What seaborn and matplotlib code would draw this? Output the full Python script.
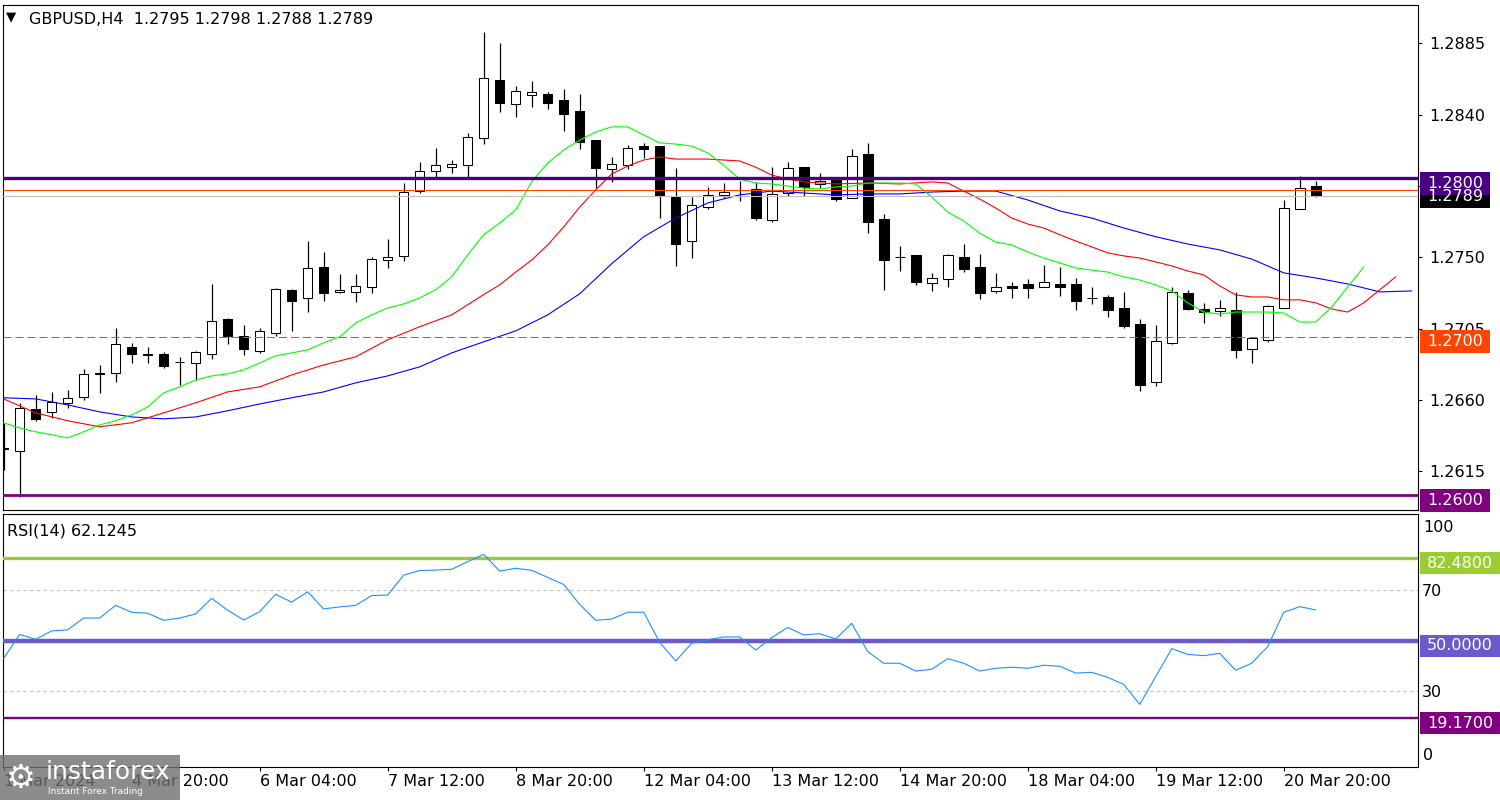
import numpy as np
import pandas as pd
import seaborn as sns
import matplotlib.pyplot as plt
from matplotlib.patches import Rectangle

# GBPUSD H4 candles, one entry per bar (1 Mar 12:00 ... 21 Mar 04:00)
opens = [1.26297, 1.26277, 1.26543, 1.26525, 1.26582, 1.26620, 1.26765, 1.26771, 1.26935, 1.26885,
         1.26891, 1.26840, 1.26834, 1.26891, 1.27112, 1.27004, 1.26909, 1.27023, 1.27295, 1.27244,
         1.27439, 1.27282, 1.27282, 1.27314, 1.27483, 1.27509, 1.27918, 1.28045, 1.28069, 1.28082,
         1.28252, 1.28618, 1.28467, 1.28524, 1.28530, 1.28492, 1.28423, 1.28241, 1.28057, 1.28082,
         1.28202, 1.28202, 1.27881, 1.27603, 1.27817, 1.27894, 1.27925, 1.27931, 1.27735, 1.27906,
         1.28069, 1.27963, 1.27994, 1.27875, 1.28152, 1.27742, 1.27502, 1.27515, 1.27338, 1.27364,
         1.27502, 1.27439, 1.27288, 1.27320, 1.27332, 1.27314, 1.27332, 1.27332, 1.27244, 1.27250,
         1.27181, 1.27080, 1.26715, 1.26961, 1.27276, 1.27174, 1.27162, 1.27168, 1.26923, 1.26980,
         1.27181, 1.27804, 1.27950]
highs = [1.26456, 1.26582, 1.26633, 1.26652, 1.26664, 1.26797, 1.26821, 1.27055, 1.26961, 1.26935,
         1.26904, 1.26872, 1.26910, 1.27332, 1.27118, 1.27073, 1.27055, 1.27307, 1.27301, 1.27603,
         1.27534, 1.27396, 1.27396, 1.27502, 1.27616, 1.27969, 1.28101, 1.28190, 1.28114, 1.28284,
         1.28922, 1.28852, 1.28581, 1.28612, 1.28543, 1.28562, 1.28530, 1.28241, 1.28133, 1.28209,
         1.28222, 1.28202, 1.28063, 1.27881, 1.27944, 1.27969, 1.27982, 1.27976, 1.28069, 1.28101,
         1.28069, 1.28032, 1.27994, 1.28183, 1.28222, 1.27774, 1.27571, 1.27515, 1.27402, 1.27521,
         1.27584, 1.27521, 1.27402, 1.27345, 1.27364, 1.27452, 1.27439, 1.27370, 1.27314, 1.27263,
         1.27282, 1.27112, 1.27073, 1.27314, 1.27295, 1.27213, 1.27232, 1.27282, 1.26992, 1.27200,
         1.27862, 1.28013, 1.27980]
lows = [1.26159, 1.25989, 1.26469, 1.26487, 1.26550, 1.26601, 1.26645, 1.26715, 1.26834, 1.26834,
        1.26803, 1.26696, 1.26726, 1.26859, 1.26954, 1.26885, 1.26897, 1.27004, 1.27036, 1.27155,
        1.27225, 1.27276, 1.27219, 1.27276, 1.27433, 1.27477, 1.27906, 1.28007, 1.28032, 1.28000,
        1.28215, 1.28416, 1.28385, 1.28448, 1.28435, 1.28297, 1.28183, 1.27937, 1.27976, 1.28057,
        1.28127, 1.27748, 1.27446, 1.27496, 1.27804, 1.27875, 1.27855, 1.27735, 1.27722, 1.27887,
        1.27887, 1.27937, 1.27855, 1.27875, 1.27653, 1.27295, 1.27414, 1.27326, 1.27288, 1.27314,
        1.27407, 1.27237, 1.27276, 1.27244, 1.27244, 1.27314, 1.27256, 1.27168, 1.27206, 1.27124,
        1.27055, 1.26657, 1.26689, 1.26954, 1.27168, 1.27086, 1.27131, 1.26866, 1.26834, 1.26967,
        1.27181, 1.27804, 1.27880]
closes = [1.26290, 1.26550, 1.26481, 1.26588, 1.26614, 1.26765, 1.26771, 1.26954, 1.26891, 1.26888,
          1.26815, 1.26842, 1.26904, 1.27099, 1.27004, 1.26922, 1.27036, 1.27301, 1.27225, 1.27433,
          1.27276, 1.27295, 1.27320, 1.27489, 1.27502, 1.27912, 1.28045, 1.28082, 1.28089, 1.28259,
          1.28631, 1.28474, 1.28549, 1.28543, 1.28474, 1.28405, 1.28228, 1.28063, 1.28089, 1.28190,
          1.28183, 1.27887, 1.27584, 1.27830, 1.27894, 1.27912, 1.27927, 1.27748, 1.27899, 1.28063,
          1.27944, 1.27982, 1.27868, 1.28140, 1.27722, 1.27483, 1.27500, 1.27345, 1.27370, 1.27515,
          1.27427, 1.27276, 1.27314, 1.27307, 1.27307, 1.27345, 1.27314, 1.27225, 1.27242, 1.27168,
          1.27068, 1.26696, 1.26973, 1.27282, 1.27174, 1.27155, 1.27181, 1.26917, 1.26992, 1.27194,
          1.27811, 1.27937, 1.27890]

# Alligator lines (shifted forward, so they run past the last candle)
jaw_idx = list(range(0, 89, 2))
jaw = [1.26614, 1.26607, 1.26569, 1.26525, 1.26493, 1.26481, 1.26493, 1.26532, 1.26575, 1.26614,
       1.26651, 1.26708, 1.26752, 1.26809, 1.26897, 1.26967, 1.27036, 1.27137, 1.27270, 1.27460,
       1.27630, 1.27748, 1.27843, 1.27894, 1.27918, 1.27906, 1.27894, 1.27900, 1.27900, 1.27912,
       1.27918, 1.27918, 1.27862, 1.27793, 1.27748, 1.27685, 1.27630, 1.27584, 1.27547, 1.27489,
       1.27402, 1.27370, 1.27332, 1.27282, 1.27288]
teeth_idx = [0, 2, 4, 6, 8, 10, 12, 14, 16, 18, 20, 22, 24, 26, 28,
             30, 31, 32, 33, 34, 35, 36, 37, 38, 39, 40, 41, 42, 44, 46,
             47, 48, 49, 50, 52, 54, 56, 58, 59, 60, 61, 62, 63, 64, 65,
             66, 67, 68, 69, 70, 71, 72, 73, 74, 75, 76, 77, 78, 79, 80,
             81, 82, 83, 84, 85, 86, 87]
teeth = [1.26607, 1.26519, 1.26469, 1.26431, 1.26456, 1.26519, 1.26582, 1.26651, 1.26683, 1.26758, 1.26821, 1.26872, 1.26980, 1.27062, 1.27137,
         1.27265, 1.27326, 1.27407, 1.27483, 1.27578, 1.27692, 1.27817, 1.27925, 1.28026, 1.28076, 1.28114, 1.28133, 1.28120, 1.28120, 1.28108,
         1.28069, 1.28019, 1.27994, 1.27976, 1.27963, 1.27969, 1.27963, 1.27976, 1.27969, 1.27918, 1.27868, 1.27811, 1.27748, 1.27710, 1.27685,
         1.27643, 1.27603, 1.27566, 1.27528, 1.27509, 1.27496, 1.27471, 1.27446, 1.27414, 1.27389, 1.27320, 1.27263, 1.27250, 1.27250, 1.27232,
         1.27232, 1.27213, 1.27174, 1.27155, 1.27213, 1.27295, 1.27377]
lips_idx = list(range(0, 86))
lips = [1.26456, 1.26424, 1.26399, 1.26381, 1.26361, 1.26399, 1.26443, 1.26469, 1.26506, 1.26556,
        1.26645, 1.26683, 1.26726, 1.26752, 1.26765, 1.26790, 1.26834, 1.26879, 1.26897, 1.26916,
        1.26961, 1.26998, 1.27086, 1.27137, 1.27181, 1.27206, 1.27244, 1.27295, 1.27377, 1.27515,
        1.27643, 1.27717, 1.27799, 1.27976, 1.28095, 1.28177, 1.28240, 1.28291, 1.28323, 1.28323,
        1.28272, 1.28222, 1.28215, 1.28202, 1.28159, 1.28082, 1.27994, 1.27969, 1.27963, 1.27950,
        1.27937, 1.27931, 1.27944, 1.27950, 1.27969, 1.27969, 1.27969, 1.27963, 1.27881, 1.27786,
        1.27729, 1.27653, 1.27597, 1.27578, 1.27534, 1.27496, 1.27465, 1.27433, 1.27420, 1.27407,
        1.27377, 1.27357, 1.27326, 1.27288, 1.27213, 1.27155, 1.27143, 1.27155, 1.27155, 1.27155,
        1.27149, 1.27092, 1.27092, 1.27187, 1.27314, 1.27439]

rsi = [42.9, 52.4, 50.5, 53.8, 54.2, 58.9, 58.9, 63.9, 61.2, 60.8,
       58.0, 58.9, 60.5, 66.7, 62.0, 58.1, 61.4, 68.3, 65.2, 69.3,
       62.5, 63.3, 63.9, 67.8, 68.0, 75.9, 77.7, 77.9, 78.2, 81.2,
       84.1, 77.5, 78.6, 77.8, 75.0, 72.2, 64.3, 58.0, 58.5, 61.2,
       61.2, 49.3, 41.9, 48.9, 50.3, 51.4, 51.4, 46.2, 51.1, 55.2,
       52.2, 52.7, 50.6, 56.8, 45.6, 41.0, 41.0, 37.9, 38.6, 42.8,
       41.0, 37.9, 39.0, 39.4, 39.0, 40.2, 39.8, 37.1, 37.4, 35.4,
       32.6, 24.7, 35.7, 46.8, 44.5, 44.0, 44.9, 38.2, 41.0, 47.6,
       61.2, 63.4, 62.1245]

price_ticks = [1.2615, 1.2660, 1.2705, 1.2750, 1.2795, 1.2840, 1.2885]
tick_bars = [0, 8, 16, 24, 32, 40, 48, 56, 64, 72, 80]
tick_labels = ['1 Mar 2024', '4 Mar 20:00', '6 Mar 04:00', '7 Mar 12:00', '8 Mar 20:00',
               '12 Mar 04:00', '13 Mar 12:00', '14 Mar 20:00', '18 Mar 04:00',
               '19 Mar 12:00', '20 Mar 20:00']

resistance = 1.2800
support = 1.2600
round_level = 1.2700
ask_line = 1.27925
bid_line = 1.2789
rsi_high, rsi_mid, rsi_low = 82.48, 50.0, 19.17

sns.set_theme(style='white')
plt.rcParams['font.family'] = ['DejaVu Sans']
FS = 11.5

W, H = 1500, 800
fig = plt.figure(figsize=(15, 8), dpi=100)
fig.patch.set_facecolor('white')
ax = fig.add_axes([3 / W, 290 / H, 1415 / W, 505 / H])
ax2 = fig.add_axes([3 / W, 33 / H, 1415 / W, 253 / H])

#Candles
bars = np.arange(len(opens))
o = np.array(opens)
c = np.array(closes)
fill = np.where(c >= o, 'white', 'black')
ax.vlines(bars, lows, highs, colors='black', linewidth=0.9, zorder=2)
ax.bar(bars, np.abs(c - o), bottom=np.minimum(o, c), width=0.6, color=fill,
       edgecolor='black', linewidth=0.75, zorder=3)

#Alligator
sns.lineplot(x=jaw_idx, y=jaw, ax=ax, color='#0000FF', linewidth=0.8, zorder=4)
sns.lineplot(x=teeth_idx, y=teeth, ax=ax, color='#FF0000', linewidth=0.8, zorder=4)
sns.lineplot(x=lips_idx, y=lips, ax=ax, color='#00FF00', linewidth=0.8, zorder=4)

#Levels on price chart
ax.axhline(resistance, color='#4B0082', linewidth=2.4, zorder=5)
ax.axhline(support, color='#800080', linewidth=2.0, zorder=5)
ax.axhline(ask_line, color='#FF4500', linewidth=0.8, zorder=5)
ax.axhline(bid_line, color='#C0C0C0', linewidth=0.8, zorder=5)
ax.axhline(round_level, color='#FF4500', linewidth=0.75, dashes=(7.7, 3.8), zorder=5)

ax.set_xlim(-0.04, 88.39)
ax.set_ylim(1.25906, 1.29092)
ax.yaxis.tick_right()
ax.set_yticks(price_ticks)
ax.set_yticklabels([f'{v:.4f}' for v in price_ticks])
ax.tick_params(axis='y', right=True, left=False, direction='out', length=3, width=0.8,
               pad=5, labelsize=FS, colors='black')
ax.tick_params(axis='x', bottom=False, labelbottom=False)
ax.set_xlabel('')
ax.set_ylabel('')

#RSI panel
sns.lineplot(x=bars, y=rsi, ax=ax2, color='#1E90FF', linewidth=0.8, zorder=4)
for lvl in [70, 30]:
    ax2.axhline(lvl, color='#C0C0C0', linewidth=0.8, dashes=(3, 3), zorder=1)
ax2.axhline(rsi_high, color='#9ACD32', linewidth=2.4, zorder=3)
ax2.axhline(rsi_mid, color='#6A5ACD', linewidth=3.2, zorder=3)
ax2.axhline(rsi_low, color='#800080', linewidth=1.7, zorder=3)
ax2.set_xlim(-0.04, 88.39)
ax2.set_ylim(-0.1, 100.1)
ax2.yaxis.tick_right()
ax2.set_yticks([30, 70])
ax2.set_yticklabels(['30', '70'])
ax2.tick_params(axis='y', right=True, left=False, length=0, pad=3, labelsize=FS, colors='black')
ax2.set_xticks(tick_bars)
ax2.set_xticklabels(tick_labels, ha='left')
ax2.tick_params(axis='x', bottom=True, direction='out', length=3, width=0.8, pad=2,
                labelsize=FS, colors='black')
ax2.set_xlabel('')
ax2.set_ylabel('')

for a in (ax, ax2):
    for s in a.spines.values():
        s.set_color('black')
        s.set_linewidth(0.8)
        s.set_visible(True)


def row_of(axis, value):
    # pixel row (from the top) of a data value
    return H - axis.transData.transform((0, value))[1]


def tag(axis, value, text, color, off=5, h=23, x1=1490):
    yc = row_of(axis, value) + off
    fig.add_artist(Rectangle((1420 / W, 1 - (yc + h / 2) / H), (x1 - 1420) / W, h / H,
                             transform=fig.transFigure, facecolor=color, edgecolor='none', zorder=5))
    fig.text(1427 / W, 1 - yc / H, text, color='white', fontsize=FS, va='center', ha='left', zorder=6)


tag(ax, bid_line, f'{bid_line:.4f}', 'black', off=1, h=22)
tag(ax, resistance, f'{resistance:.4f}', '#4B0082')
tag(ax, round_level, f'{round_level:.4f}', '#FF4500')
tag(ax, support, f'{support:.4f}', '#800080')
tag(ax2, rsi_high, f'{rsi_high:.4f}', '#9ACD32', h=22, x1=1500)
tag(ax2, rsi_mid, f'{rsi_mid:.4f}', '#6A5ACD', h=22, x1=1500)
tag(ax2, rsi_low, f'{rsi_low:.4f}', '#800080', h=22, x1=1500)

fig.text(1423 / W, 1 - 527 / H, '100', fontsize=FS, va='center', ha='left', color='black')
fig.text(1423 / W, 1 - 755 / H, '0', fontsize=FS, va='center', ha='left', color='black')

#Header texts
fig.text(6 / W, 1 - 17 / H, '▼', fontsize=9.5, va='center', ha='left', color='black')
fig.text(29 / W, 1 - 24.5 / H, 'GBPUSD,H4  %.4f %.4f %.4f %.4f' % (opens[-1], highs[-1], lows[-1], closes[-1]),
         fontsize=FS, va='baseline', ha='left', color='black')
fig.text(7 / W, 1 - 536 / H, f'RSI(14) {rsi[-1]:.4f}',
         fontsize=FS, va='baseline', ha='left', color='black')

#Watermark
fig.add_artist(Rectangle((0, 0), 180 / W, 45 / H, transform=fig.transFigure,
                         facecolor='#707070', edgecolor='none', alpha=0.8, zorder=7))
fig.text(6 / W, 1 - 778 / H, '⚙', fontsize=24, color='white', va='center', ha='left', zorder=8)
fig.text(46 / W, 1 - 772 / H, 'instaforex', fontsize=18, color='white', va='center', ha='left', zorder=8)
fig.text(48 / W, 1 - 791 / H, 'Instant Forex Trading', fontsize=6.5, color='white', va='center', ha='left', zorder=8)

fig.savefig('out.png', dpi=100)
